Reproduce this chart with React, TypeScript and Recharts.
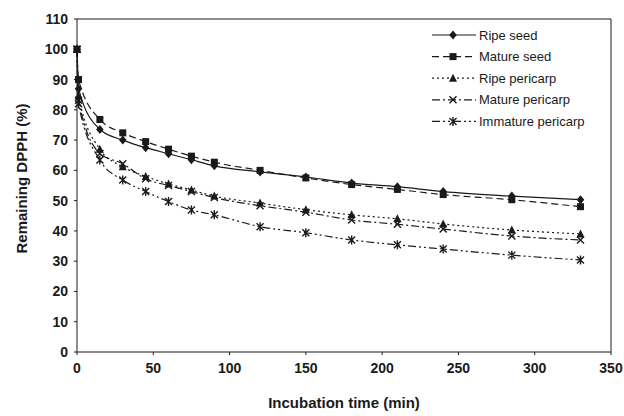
import React from "react";
import { LineChart, Line, XAxis, YAxis, ReferenceLine } from "recharts";

const times = [0, 1, 15, 30, 45, 60, 75, 90, 120, 150, 180, 210, 240, 285, 330];
const ripeSeed = [100, 87, 73.5, 70, 67.5, 65.5, 63.5, 61.5, 59.5, 57.8, 55.8, 54.6, 53, 51.5, 50.3];
const matureSeed = [100, 90, 76.8, 72.4, 69.5, 67, 64.7, 62.7, 60, 57.5, 55.3, 53.7, 52, 50.3, 48];
const ripePericarp = [100, 84.5, 67, 61.2, 58, 55.5, 53.5, 51.5, 49.2, 47, 45.3, 44, 42.3, 40.3, 39];
const maturePericarp = [100, 83.2, 65.6, 62.2, 57.2, 55, 53, 51, 48.3, 46.2, 43.6, 42.2, 40.6, 38.3, 37];
const immaturePericarp = [100, 82, 63.4, 56.8, 53, 49.7, 46.9, 45.3, 41.4, 39.4, 37, 35.4, 34, 32, 30.4];

const xTicks = [0, 50, 100, 150, 200, 250, 300, 350];
const yTicks = [0, 10, 20, 30, 40, 50, 60, 70, 80, 90, 100, 110];

const data = times.map((t, i) => ({
  t,
  ripeSeed: ripeSeed[i],
  matureSeed: matureSeed[i],
  ripePericarp: ripePericarp[i],
  maturePericarp: maturePericarp[i],
  immaturePericarp: immaturePericarp[i],
}));

const INK = "#1a1a1a";
const FONT = "'Liberation Sans', Arial, sans-serif";

type Shape = (cx: number, cy: number, key?: string | number) => React.ReactElement;

const diamond: Shape = (cx, cy, key) => (
  <path key={key} d={`M${cx},${cy - 4.5}L${cx + 3.8},${cy}L${cx},${cy + 4.5}L${cx - 3.8},${cy}Z`} fill={INK} />
);
const square: Shape = (cx, cy, key) => (
  <rect key={key} x={cx - 3.5} y={cy - 3.5} width={7} height={7} fill={INK} />
);
const triangle: Shape = (cx, cy, key) => (
  <path key={key} d={`M${cx},${cy - 4.5}L${cx + 4},${cy + 3.5}L${cx - 4},${cy + 3.5}Z`} fill={INK} />
);
const cross: Shape = (cx, cy, key) => (
  <path key={key} d={`M${cx - 3.5},${cy - 3.5}L${cx + 3.5},${cy + 3.5}M${cx - 3.5},${cy + 3.5}L${cx + 3.5},${cy - 3.5}`} stroke={INK} strokeWidth={1.4} fill="none" />
);
const star: Shape = (cx, cy, key) => (
  <path key={key} d={`M${cx - 3.5},${cy - 3.5}L${cx + 3.5},${cy + 3.5}M${cx - 3.5},${cy + 3.5}L${cx + 3.5},${cy - 3.5}M${cx},${cy - 4.5}L${cx},${cy + 4.5}`} stroke={INK} strokeWidth={1.4} fill="none" />
);

const series = [
  { key: "ripeSeed", name: "Ripe seed", dash: undefined as string | undefined, shape: diamond },
  { key: "matureSeed", name: "Mature seed", dash: "7 4", shape: square },
  { key: "ripePericarp", name: "Ripe pericarp", dash: "2 3", shape: triangle },
  { key: "maturePericarp", name: "Mature pericarp", dash: "8 3 2 3", shape: cross },
  { key: "immaturePericarp", name: "Immature pericarp", dash: "8 3 2 3 2 3", shape: star },
];

const makeDot = (shape: Shape) => (props: any) => {
  const { cx, cy, index } = props;
  if (cx == null || cy == null) return <g key={index} />;
  return shape(cx, cy, index);
};

function LegendBox() {
  return (
    <svg width={200} height={110} style={{ display: "block" }}>
      {series.map((s, i) => {
        const y = 8 + i * 21.6;
        return (
          <g key={s.key}>
            <line x1={6} x2={50} y1={y} y2={y} stroke={INK} strokeWidth={1.2} strokeDasharray={s.dash} />
            {s.shape(27, y)}
            <text x={53} y={y + 4.5} fontSize={13} fontFamily={FONT} fill={INK}>
              {s.name}
            </text>
          </g>
        );
      })}
    </svg>
  );
}

export default function App() {
  return (
    <div style={{ position: "absolute", left: 0, top: 0, width: 624, height: 416, background: "#fff" }}>
      <LineChart width={624} height={416} data={data} margin={{ top: 19, right: 13, left: 27, bottom: 0 }}>
        <XAxis
          dataKey="t"
          type="number"
          domain={[0, 350]}
          ticks={xTicks}
          height={64}
          stroke={INK}
          tickSize={3}
          tickMargin={8}
          tick={{ fill: INK, fontSize: 14, fontWeight: 700, fontFamily: FONT }}
          label={{ value: "Incubation time (min)", position: "insideBottom", offset: 8, fill: INK, fontSize: 15, fontWeight: 700, fontFamily: FONT }}
        />
        <YAxis
          type="number"
          domain={[0, 110]}
          ticks={yTicks}
          width={50}
          stroke={INK}
          tickSize={3}
          tickMargin={6}
          tick={{ fill: INK, fontSize: 14, fontWeight: 700, fontFamily: FONT }}
          label={{ value: "Remaining DPPH (%)", angle: -90, position: "insideLeft", offset: -5, dy: 68, fill: INK, fontSize: 15, fontWeight: 700, fontFamily: FONT }}
        />
        <ReferenceLine y={110} stroke={INK} strokeWidth={1} />
        <ReferenceLine x={350} stroke={INK} strokeWidth={1} />
        {series.map((s) => (
          <Line
            key={s.key}
            dataKey={s.key}
            name={s.name}
            type="monotone"
            stroke={INK}
            strokeWidth={1.2}
            strokeDasharray={s.dash}
            dot={makeDot(s.shape)}
            activeDot={false}
            isAnimationActive={false}
          />
        ))}
      </LineChart>
      <div style={{ position: "absolute", left: 426, top: 27 }}>
        <LegendBox />
      </div>
    </div>
  );
}
